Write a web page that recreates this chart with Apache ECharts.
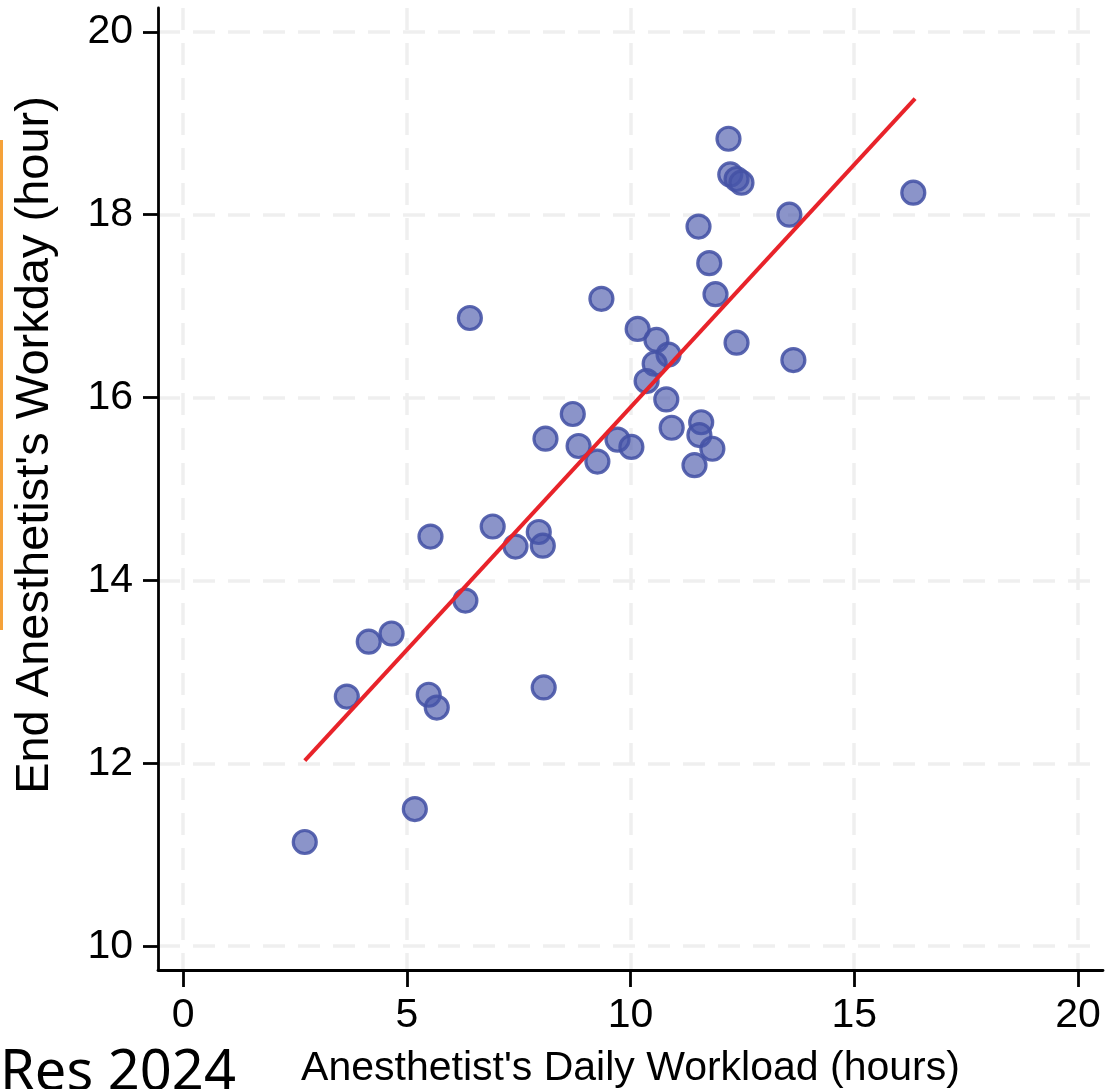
<!DOCTYPE html>
<html>
<head>
<meta charset="utf-8">
<script src="https://cdn.jsdelivr.net/npm/echarts@6/dist/echarts.min.js"></script>
<style>
html,body{margin:0;padding:0;background:#fff;}
#c{width:1115px;height:1089px;}
</style>
</head>
<body>
<div id="c"></div>
<script>
// Data
const workload = [2.72,3.66,4.15,4.66,5.18,5.49,5.67,5.53,6.31,6.41,6.92,7.43,7.95,8.04,8.06,8.10,8.71,8.84,9.26,9.35,9.71,10.02,10.16,10.58,10.85,10.54,10.36,10.80,10.92,11.58,11.54,11.83,11.43,12.37,13.64,11.90,11.76,11.52,13.55,12.19,12.23,12.37,12.48,16.32];
const endHour  = [11.14,12.73,13.33,13.42,11.50,12.75,12.61,14.48,13.78,16.87,14.59,14.37,14.53,14.38,12.83,15.55,15.82,15.47,15.30,17.08,15.54,15.46,16.75,16.63,16.47,16.37,16.18,15.98,15.67,15.73,15.59,15.44,15.26,16.60,16.41,17.13,17.47,17.87,18.00,18.83,18.44,18.39,18.35,18.24];
const fitX = [2.72, 16.36];
const fitY = [12.03, 19.27];
const xTicks = [0,5,10,15,20];
const yTicks = [10,12,14,16,18,20];
const xTitle = "Anesthetist's Daily Workload (hours)";
const yTitle = "End Anesthetist's Workday (hour)";
const cornerText = "Res 2024";

const points = workload.map((x,i)=>[x,endHour[i]]);
const fitLine = fitX.map((x,i)=>[x,fitY[i]]);

const chart = echarts.init(document.getElementById('c'), null, {renderer:'canvas'});
const font = 'Liberation Sans, Arial, sans-serif';
const gridLine = {show:true, lineStyle:{color:'#efefef', width:3.5, type:[22,13]}};
chart.setOption({
  animation:false,
  backgroundColor:'#fff',
  grid:{left:158, right:12, top:8, bottom:119, containLabel:false, outerBoundsMode:'none'},
  xAxis:{
    type:'value', min:-0.56, max:20.56,
    axisLine:{show:true, onZero:false, lineStyle:{color:'#000', width:2.8}},
    axisTick:{show:true, length:17, customValues:xTicks, lineStyle:{color:'#000', width:2.8}},
    axisLabel:{customValues:xTicks, color:'#000', fontSize:41, fontFamily:font, margin:25},
    splitLine:gridLine,
    name:xTitle, nameLocation:'middle', nameGap:78,
    nameTextStyle:{color:'#000', fontSize:41, fontFamily:font}
  },
  yAxis:{
    type:'value', min:9.74, max:20.26,
    axisLine:{show:true, onZero:false, lineStyle:{color:'#000', width:2.8}},
    axisTick:{show:true, length:15, customValues:yTicks, lineStyle:{color:'#000', width:2.8}},
    axisLabel:{customValues:yTicks, color:'#000', fontSize:41, fontFamily:font, margin:25},
    splitLine:gridLine
  },
  graphic:[
    {type:'text', x:35, y:445, rotation:Math.PI/2, style:{text:yTitle, font:'47px Liberation Sans', fill:'#000', align:'center', verticalAlign:'middle'}},
    {type:'text', x:0, y:1046, style:{text:cornerText, font:'56px "Noto Sans"', fill:'#000'}},
    {type:'line', shape:{x1:1.5, y1:140, x2:1.5, y2:630}, style:{stroke:'#f5a23a', lineWidth:3}}
  ],
  series:[
    {type:'scatter', data:points, symbolSize:23, z:2,
     itemStyle:{color:'rgba(72,86,170,0.63)', borderColor:'rgba(68,82,165,0.88)', borderWidth:3.2, opacity:1}},
    {type:'line', data:fitLine, symbol:'none', z:3, silent:true,
     lineStyle:{color:'#e8232a', width:4}}
  ]
});
</script>
</body>
</html>
